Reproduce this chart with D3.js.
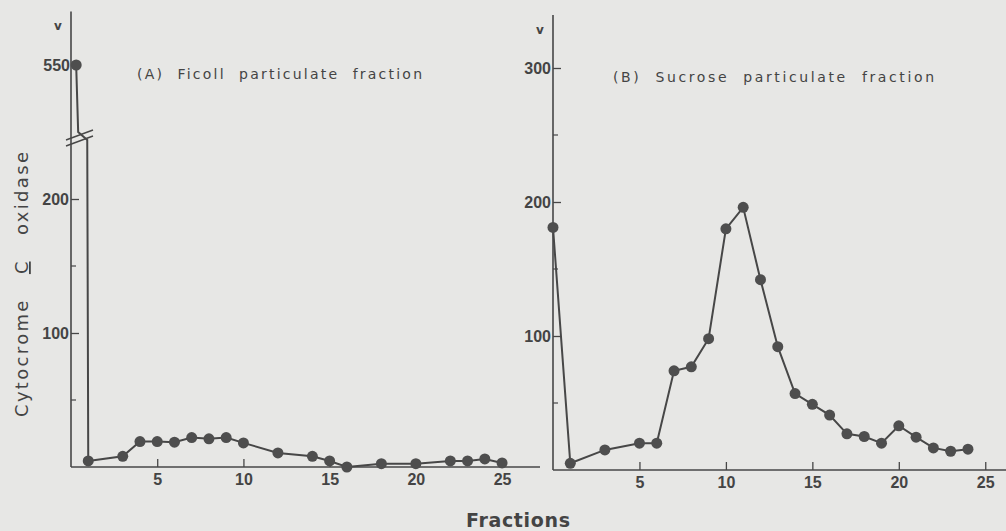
<!DOCTYPE html>
<html><head><meta charset="utf-8">
<script src="https://cdn.jsdelivr.net/npm/d3@7"></script>
<style>
html,body{margin:0;padding:0;background:#e7e7e5;}
svg{display:block;}
text{font-family:"DejaVu Sans",sans-serif;fill:#444;}
.tl{font-family:"Liberation Sans",sans-serif;font-weight:bold;}
</style></head>
<body><svg id="c" width="1006" height="531"></svg>
<script>
// Panel A: Ficoll particulate fraction
const fracA = [0.3, 1, 3, 4, 5, 6, 7, 8, 9, 10, 12, 14, 15, 16, 18, 20, 22, 23, 24, 25];
const valA  = [550, 4.5, 8, 19, 19, 18.5, 22, 21, 22, 18, 10.5, 8, 4.5, 0, 2.5, 2.5, 4.5, 4.5, 6, 3];
// Panel B: Sucrose particulate fraction
const fracB = [0, 1, 3, 5, 6, 7, 8, 9, 10, 11, 12, 13, 14, 15, 16, 17, 18, 19, 20, 21, 22, 23, 24];
const valB  = [181, 5, 15, 20, 20, 74, 77, 98, 180, 196, 142, 92, 57, 49, 41, 27, 25, 20, 33, 24.5, 16.5, 14, 15.5];
const xTicks = [5, 10, 15, 20, 25];
const yTicksA = [100, 200];
const yMinorA = [50, 150];
const yTopA = [550];
const yTicksB = [100, 200, 300];
const yMinorB = [50, 150, 250];
const titleA = "(A)  Ficoll  particulate  fraction";
const titleB = "(B)  Sucrose  particulate  fraction";
const yLabelParts = ["Cytocrome   ", "C", "   oxidase"];
const xLabel = "Fractions";

const svg = d3.select("#c");
const ink = "#474747";
const txt = "#4a4a4a";

// scales
const xA = d3.scaleLinear().domain([0, 27.2]).range([71, 540]);
const yA = d3.scaleLinear().domain([0, 250, 510, 590]).range([467, 132, 118.6, 11.4]);
const xB = d3.scaleLinear().domain([0, 26.2]).range([553, 1006]);
const yB = d3.scaleLinear().domain([0, 300, 340]).range([470, 68, 15]);

function axes(x, y, ticks, minor, xmax, ytop) {
  const xa = d3.axisBottom(x).tickValues(xTicks).tickSize(-8).tickPadding(12).tickFormat(d3.format("d"));
  const gx = svg.append("g").attr("transform", `translate(0,${y(0)})`).call(xa);
  gx.select(".domain").attr("d", `M${x(0)},0H${x(xmax)}`).attr("stroke", ink).attr("stroke-width", 1.6);
  gx.selectAll(".tick line").attr("stroke", ink).attr("stroke-width", 1.3);
  gx.selectAll(".tick text").attr("class", "tl").attr("font-size", 16).attr("fill", txt).attr("dy", "0.35em");
  const ya = d3.axisRight(y).tickValues(ticks).tickSize(8).tickFormat(d3.format("d"));
  const gy = svg.append("g").attr("transform", `translate(${x(0)},0)`).call(ya);
  gy.select(".domain").attr("d", `M0,${y(0)}V${y(ytop)}`).attr("stroke", ink).attr("stroke-width", 1.6);
  gy.selectAll(".tick line").attr("stroke", ink).attr("stroke-width", 1.3);
  gy.selectAll(".tick text").attr("class", "tl").attr("x", -2).attr("text-anchor", "end")
    .attr("font-size", 16).attr("fill", txt);
  svg.append("g").selectAll("line").data(minor).join("line")
    .attr("x1", x(0)).attr("x2", x(0) + 5).attr("y1", d => y(d)).attr("y2", d => y(d))
    .attr("stroke", ink).attr("stroke-width", 1.2);
  svg.append("text").attr("x", x(0) - 13).attr("y", y(ytop) + 19).attr("font-size", 12)
    .attr("font-weight", "bold").attr("text-anchor", "middle").text("v");
}

axes(xA, yA, yTicksA, yMinorA, 27.2, 590);
axes(xB, yB, yTicksB, yMinorB, 26.2, 340);

// 550 label on A
svg.append("g").attr("transform", `translate(${xA(0)},0)`).call(
  d3.axisLeft(yA).tickValues(yTopA).tickSize(0).tickPadding(1).tickFormat(d3.format("d")))
  .call(g => g.select(".domain").remove())
  .selectAll("text").attr("class", "tl").attr("font-size", 16).attr("fill", txt);

// data A
const ptsA = fracA.map((f, i) => [xA(f), yA(valA[i])]);
const yBrk = yA(250);
const line = d3.line();
svg.append("path").attr("d", line([ptsA[0], [ptsA[0][0] + 2, yBrk], [ptsA[1][0] - 1, yBrk + 8], ptsA[1]]))
  .attr("fill", "none").attr("stroke", ink).attr("stroke-width", 2);
svg.append("path").attr("d", line(ptsA.slice(1)))
  .attr("fill", "none").attr("stroke", ink).attr("stroke-width", 2);
[0, 6].forEach(o => {
  svg.append("line").attr("x1", xA(0) - 5).attr("x2", xA(0) + 22)
    .attr("y1", yBrk + 8 + o).attr("y2", yBrk - 2 + o)
    .attr("stroke", ink).attr("stroke-width", 1.4);
});
svg.append("g").selectAll("circle").data(ptsA).join("circle")
  .attr("cx", d => d[0]).attr("cy", d => d[1]).attr("r", 5.5).attr("fill", "#4e4e4e");

// data B
const ptsB = fracB.map((f, i) => [xB(f), yB(valB[i])]);
svg.append("path").attr("d", line(ptsB)).attr("fill", "none").attr("stroke", ink).attr("stroke-width", 2);
svg.append("g").selectAll("circle").data(ptsB).join("circle")
  .attr("cx", d => d[0]).attr("cy", d => d[1]).attr("r", 5.5).attr("fill", "#4e4e4e");

// titles
svg.append("text").attr("x", 137).attr("y", 79).attr("font-size", 14).attr("fill", "#404040")
  .attr("textLength", 285).attr("lengthAdjust", "spacing").style("white-space", "pre").text(titleA);
svg.append("text").attr("x", 613).attr("y", 82).attr("font-size", 14).attr("fill", "#404040")
  .attr("textLength", 321).attr("lengthAdjust", "spacing").style("white-space", "pre").text(titleB);

// axis labels
const yl = svg.append("text").attr("transform", "translate(28,417) rotate(-90)")
  .attr("font-size", 18).attr("textLength", 265).attr("lengthAdjust", "spacing").style("white-space", "pre");
yl.selectAll("tspan").data(yLabelParts).join("tspan")
  .attr("text-decoration", (d, i) => i === 1 ? "underline" : null).text(d => d);
svg.append("text").attr("x", 466).attr("y", 527).attr("font-weight", "bold")
  .attr("font-size", 19).attr("textLength", 104).attr("lengthAdjust", "spacing").text(xLabel);
</script></body></html>
